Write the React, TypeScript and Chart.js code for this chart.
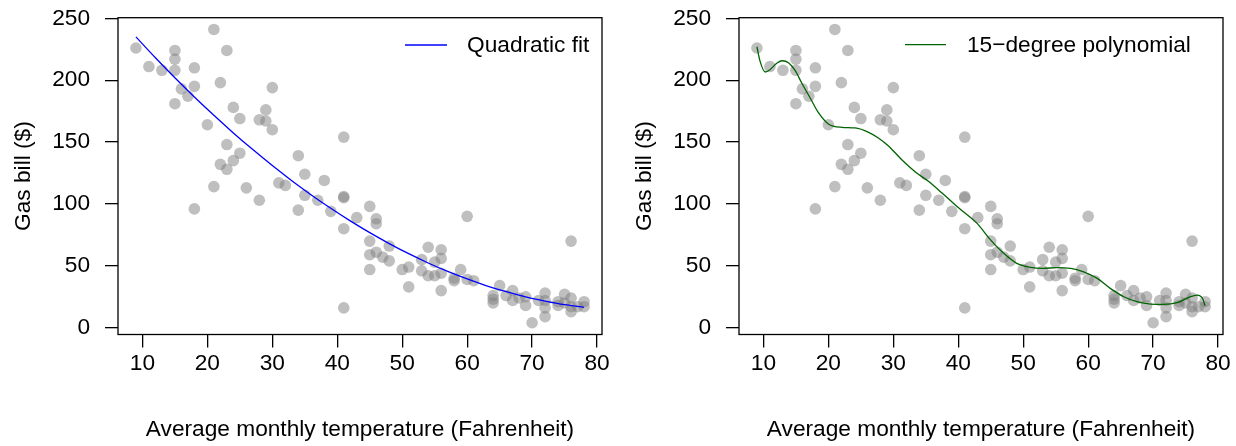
import React, { useEffect, useRef } from "react";
import { Chart, registerables } from "chart.js";

Chart.register(...registerables);

// ---------- data ----------
const temperature = [
  9, 11, 13, 15, 15, 15, 15, 16, 17, 18,
  18, 18, 20, 21, 21, 22, 22, 23, 23, 23,
  24, 24, 25, 25, 26, 28, 28, 29, 29, 30,
  30, 31, 32, 34, 34, 35, 35, 37, 38, 39,
  41, 41, 41, 41, 41, 43, 45, 45, 45, 45,
  46, 46, 46, 47, 48, 48, 50, 51, 51, 53,
  53, 54, 54, 55, 55, 56, 56, 56, 56, 58,
  58, 59, 60, 60, 61, 64, 64, 64, 65, 66,
  67, 67, 68, 69, 69, 70, 71, 72, 72, 72,
  72, 74, 74, 75, 75, 76, 76, 76, 76, 77,
  78, 78,
];
const gasBill = [
  226, 211, 208, 224, 217, 208, 181, 193, 187, 210,
  195, 96, 164, 241, 114, 198, 132, 224, 148, 128,
  178, 135, 169, 141, 113, 168, 103, 176, 167, 194,
  160, 117, 115, 139, 95, 124, 107, 103, 119, 94,
  154, 106, 105, 80, 16, 89, 98, 70, 59, 47,
  88, 84, 61, 57, 66, 54, 47, 49, 33, 55,
  46, 65, 42, 53, 42, 63, 56, 44, 30, 40,
  38, 47, 90, 39, 38, 26, 23, 20, 34, 26,
  30, 22, 24, 25, 18, 4, 22, 28, 22, 16,
  9, 21, 18, 27, 20, 70, 24, 17, 13, 17,
  21, 17,
];

// quadratic fit curve
const quadX = [9, 12, 15, 18, 21, 24, 27, 30, 33, 36, 39, 42, 45, 48, 51, 54, 57, 60, 63, 66, 69, 72, 75, 78];
const quadY = [235.0, 218.1, 201.9, 186.4, 171.6, 157.4, 143.9, 131.0, 118.8, 107.3, 96.5, 86.3, 76.8, 68.0, 59.8, 52.3, 45.5, 39.4, 33.9, 29.1, 24.9, 21.5, 18.6, 16.5];

// 15th-degree polynomial curve
const polyX = [9.0, 9.5, 10.3, 11.0, 12.1, 12.9, 13.9, 14.9, 15.9, 17.2, 18.5, 20.0, 22.1, 24.1, 26.2, 27.7, 29.3, 31.3, 33.4, 35.4, 37.5, 39.5, 40.8, 42.9, 44.9, 47.0, 49.0, 51.1, 53.1, 55.2, 57.3, 59.3, 61.4, 63.4, 65.5, 67.5, 69.6, 71.6, 73.7, 75.5, 76.8, 77.6, 78.0];
const polyY = [227, 215, 206.6, 208.5, 213.9, 215.7, 213.9, 207.7, 197.7, 185.6, 173.5, 164.6, 161.9, 161.4, 157.9, 153.3, 146.6, 135.7, 125.8, 118.3, 108.8, 99.4, 93.7, 84.3, 71.4, 60.1, 52, 48.8, 48, 48.5, 48, 45.2, 39.9, 31.8, 25, 21, 19.1, 18.9, 20.2, 24.6, 26.4, 23.8, 17.8];

const xTicks = [10, 20, 30, 40, 50, 60, 70, 80];
const yTicks = [0, 50, 100, 150, 200, 250];

const xTitle = "Average monthly temperature (Fahrenheit)";
const yTitle = "Gas bill ($)";
const quadLabel = "Quadratic fit";
const polyLabel = "15\u2212degree polynomial";

// ---------- styling ----------
const FONT = "'Liberation Sans', Arial, Helvetica, sans-serif";
const FSIZE = 22.7;
const POINT_COLOR = "rgba(128,128,128,0.5)";

const boxPlugin = {
  id: "rbox",
  afterDraw(chart: any) {
    const { ctx, chartArea: a } = chart;
    ctx.save();
    ctx.strokeStyle = "#000";
    ctx.lineWidth = 1.3;
    ctx.strokeRect(a.left, a.top, a.right - a.left, a.bottom - a.top);
    ctx.restore();
  },
};

const legendPlugin = {
  id: "rlegend",
  afterDatasetsDraw(chart: any, _args: any, opts: any) {
    const { ctx, chartArea: a } = chart;
    const y = a.top + opts.dy;
    ctx.save();
    ctx.strokeStyle = opts.color;
    ctx.lineWidth = 1.3;
    ctx.beginPath();
    ctx.moveTo(a.left + opts.lineStart, y);
    ctx.lineTo(a.left + opts.lineEnd, y);
    ctx.stroke();
    ctx.fillStyle = "#000";
    ctx.font = `${FSIZE}px ${FONT}`;
    ctx.textAlign = "left";
    ctx.textBaseline = "middle";
    ctx.fillText(opts.text, a.left + opts.textStart, y + 1);
    ctx.restore();
  },
};

function buildConfig(
  curveX: number[],
  curveY: number[],
  color: string,
  legendOpts: any,
  rightPad: number
): any {
  const font = { family: FONT, size: FSIZE };
  return {
    type: "scatter",
    data: {
      datasets: [
        {
          data: curveX.map((x, i) => ({ x, y: curveY[i] })),
          showLine: true,
          borderColor: color,
          borderWidth: 1.3,
          pointRadius: 0,
          cubicInterpolationMode: "monotone",
          fill: false,
        },
        {
          data: temperature.map((x, i) => ({ x, y: gasBill[i] })),
          pointRadius: 5.8,
          pointBackgroundColor: POINT_COLOR,
          backgroundColor: POINT_COLOR,
          pointBorderWidth: 0,
          borderWidth: 0,
          showLine: false,
        },
      ],
    },
    options: {
      animation: false,
      responsive: false,
      maintainAspectRatio: false,
      events: [],
      layout: { padding: { top: 17.7, right: rightPad, bottom: 0, left: 0 } },
      plugins: {
        legend: { display: false },
        tooltip: { enabled: false },
        rlegend: legendOpts,
      },
      scales: {
        x: {
          type: "linear",
          min: 6.24,
          max: 80.76,
          afterBuildTicks: (s: any) => {
            s.ticks = xTicks.map((v) => ({ value: v }));
          },
          afterFit: (s: any) => {
            s.height = 111.5;
            s.paddingLeft = 0;
            s.paddingRight = 0;
          },
          grid: {
            drawOnChartArea: false,
            drawTicks: true,
            tickLength: 13,
            color: "#000",
            lineWidth: 1.3,
          },
          border: { display: false },
          ticks: {
            color: "#000",
            font,
            padding: 3,
            maxRotation: 0,
            autoSkip: false,
          },
          title: {
            display: true,
            text: xTitle,
            color: "#000",
            font,
            padding: { top: 0, bottom: 3 },
          },
        },
        y: {
          type: "linear",
          min: -5.48,
          max: 250.48,
          afterBuildTicks: (s: any) => {
            s.ticks = yTicks.map((v) => ({ value: v }));
          },
          afterFit: (s: any) => {
            s.width = 118;
            s.paddingTop = 0;
            s.paddingBottom = 0;
          },
          grid: {
            drawOnChartArea: false,
            drawTicks: true,
            tickLength: 13,
            color: "#000",
            lineWidth: 1.3,
          },
          border: { display: false },
          ticks: {
            color: "#000",
            font,
            padding: 15,
            autoSkip: false,
          },
          title: {
            display: true,
            text: yTitle,
            color: "#000",
            font,
            padding: { top: 10, bottom: 0 },
          },
        },
      },
    },
    plugins: [boxPlugin, legendPlugin],
  };
}

export default function App() {
  const leftRef = useRef<HTMLCanvasElement | null>(null);
  const rightRef = useRef<HTMLCanvasElement | null>(null);

  useEffect(() => {
    document.body.style.margin = "0";
    const charts: Chart[] = [];
    if (leftRef.current) {
      charts.push(
        new Chart(
          leftRef.current,
          buildConfig(
            quadX,
            quadY,
            "#0000FF",
            { color: "#0000FF", dy: 27.3, lineStart: 287, lineEnd: 329, textStart: 349, text: quadLabel },
            16
          )
        )
      );
    }
    if (rightRef.current) {
      charts.push(
        new Chart(
          rightRef.current,
          buildConfig(
            polyX,
            polyY,
            "#006400",
            { color: "#006400", dy: 27.0, lineStart: 166, lineEnd: 207, textStart: 228, text: polyLabel },
            13
          )
        )
      );
    }
    return () => {
      charts.forEach((c) => c.destroy());
    };
  }, []);

  return (
    <div style={{ position: "fixed", left: 0, top: 0, width: 1236, height: 446, background: "#fff" }}>
      <canvas
        ref={leftRef}
        width={618}
        height={446}
        style={{ position: "absolute", left: 0, top: 0, width: 618, height: 446, display: "block" }}
      />
      <canvas
        ref={rightRef}
        width={615}
        height={446}
        style={{ position: "absolute", left: 621, top: 0, width: 615, height: 446, display: "block" }}
      />
    </div>
  );
}
